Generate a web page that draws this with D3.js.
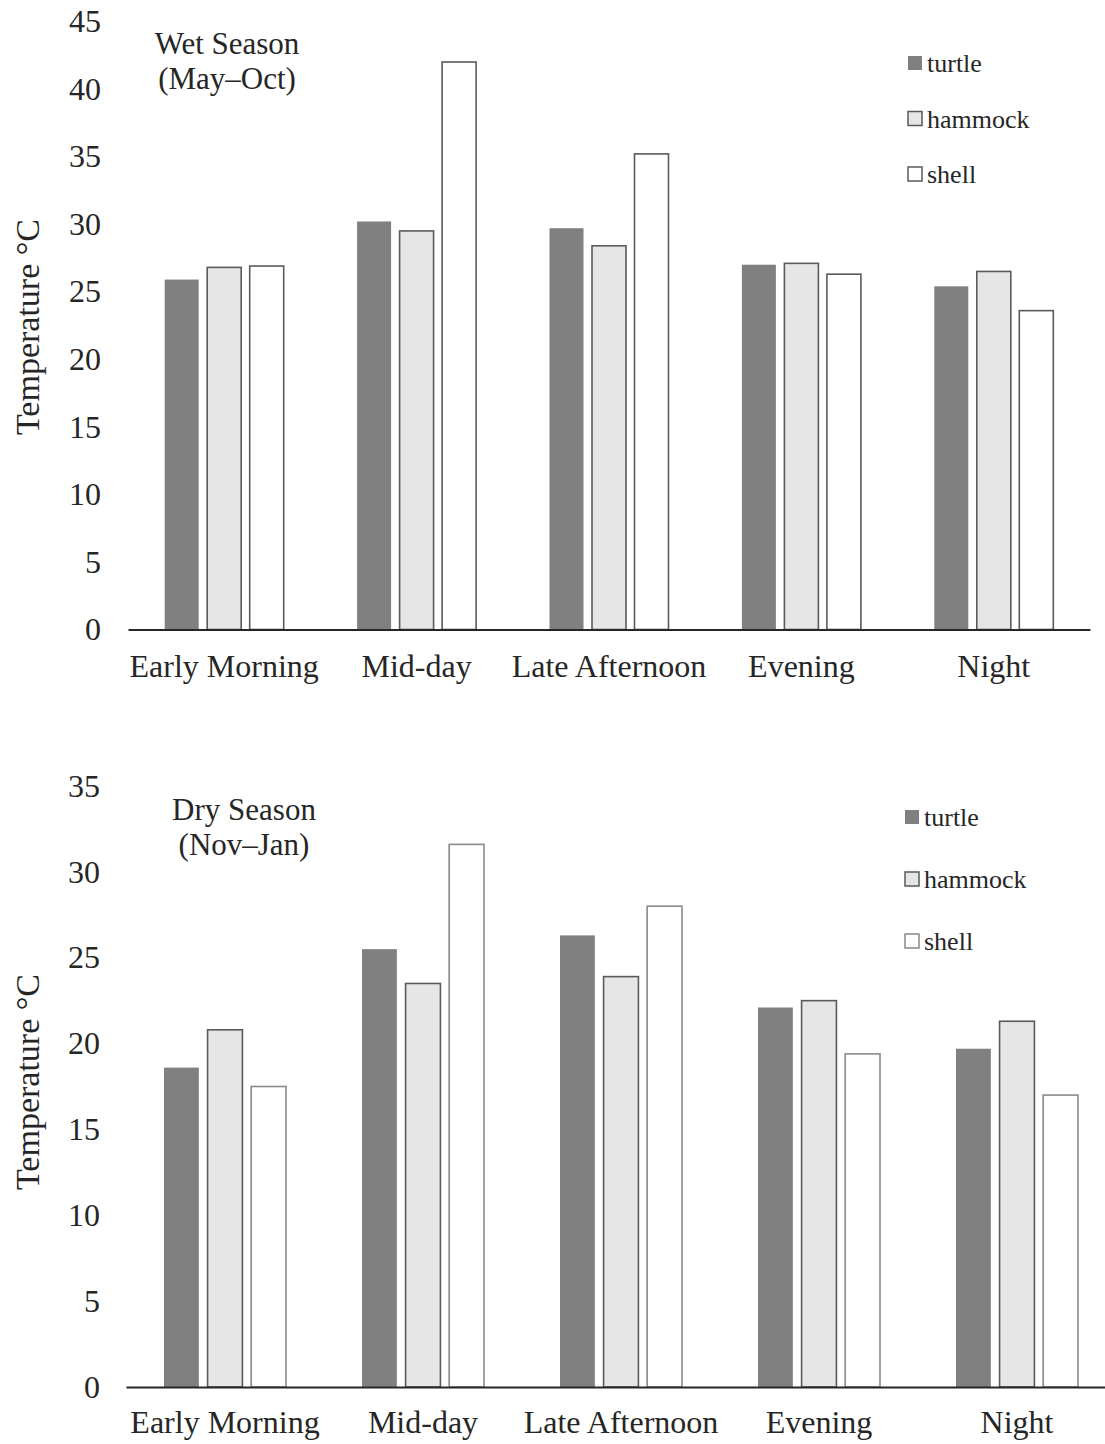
<!DOCTYPE html>
<html>
<head>
<meta charset="utf-8">
<script src="https://cdn.jsdelivr.net/npm/d3@7"></script>
<style>
  html, body { margin: 0; padding: 0; background: #fff; }
  svg { display: block; }
  text { font-family: "Liberation Serif", "Times New Roman", serif; fill: #262626; }
</style>
</head>
<body>
<svg id="chart" width="1105" height="1444"></svg>
<script>
// Time-of-day periods and the three measured surfaces
const periods = ["Early Morning", "Mid-day", "Late Afternoon", "Evening", "Night"];
const series = ["turtle", "hammock", "shell"];

// Wet season (May–Oct) mean temperatures, °C
const wetTurtle  = [25.9, 30.2, 29.7, 27.0, 25.4];
const wetHammock = [26.8, 29.5, 28.4, 27.1, 26.5];
const wetShell   = [26.9, 42.0, 35.2, 26.3, 23.6];

// Dry season (Nov–Jan) mean temperatures, °C
const dryTurtle  = [18.6, 25.5, 26.3, 22.1, 19.7];
const dryHammock = [20.8, 23.5, 23.9, 22.5, 21.3];
const dryShell   = [17.5, 31.6, 28.0, 19.4, 17.0];

// Axis ticks
const wetTicks = [0, 5, 10, 15, 20, 25, 30, 35, 40, 45];
const dryTicks = [0, 5, 10, 15, 20, 25, 30, 35];

const svg = d3.select("#chart");

function drawPanel(opt) {
  const g = svg.append("g");
  const rows = periods.map((p, i) => ({
    period: p,
    values: series.map((s, j) => ({ key: s, value: opt.data[j][i] }))
  }));

  const x0 = d3.scaleBand().domain(periods).range([opt.x0, opt.x1]).paddingInner(0).paddingOuter(0);
  const x1 = d3.scaleBand().domain(series).range([0, opt.groupW]).paddingInner(opt.barPad).paddingOuter(0);
  const y = d3.scaleLinear().domain([0, opt.yMax]).range([opt.yZero, opt.yTop]);

  const groupOffset = (x0.bandwidth() - opt.groupW) / 2;

  // bars
  g.selectAll("g.grp").data(rows).join("g")
    .attr("class", "grp")
    .attr("transform", d => `translate(${x0(d.period) + groupOffset},0)`)
    .selectAll("rect").data(d => d.values).join("rect")
    .attr("x", d => x1(d.key))
    .attr("width", x1.bandwidth())
    .attr("y", d => y(d.value))
    .attr("height", d => y(0) - y(d.value))
    .attr("fill", d => opt.fills[d.key])
    .attr("stroke", d => opt.strokes[d.key])
    .attr("stroke-width", d => opt.strokes[d.key] === "none" ? 0 : 1.6);

  // y tick labels (no axis line, no tick marks)
  const yAxis = d3.axisLeft(y).tickValues(opt.ticks).tickSize(0).tickPadding(0);
  const ya = g.append("g").attr("transform", `translate(${opt.yLabelX},0)`).call(yAxis);
  ya.select(".domain").remove();
  ya.selectAll("text")
    .style("font-family", "'Liberation Serif', 'Times New Roman', serif")
    .style("font-size", "32px")
    .attr("fill", "#262626");

  // x axis baseline and category labels
  const xAxis = d3.axisBottom(x0).tickSize(0).tickPadding(0);
  const xa = g.append("g").attr("transform", `translate(0,${opt.yZero})`).call(xAxis);
  xa.select(".domain").attr("stroke", "#262626").attr("stroke-width", 2.2);
  xa.selectAll("text")
    .attr("dy", null)
    .attr("y", opt.catBaseline - opt.yZero)
    .style("font-family", "'Liberation Serif', 'Times New Roman', serif")
    .style("font-size", "32px")
    .attr("fill", "#262626");

  // y axis title
  g.append("text")
    .attr("transform", `translate(${opt.yTitleX},${opt.yTitleY}) rotate(-90)`)
    .attr("text-anchor", "middle")
    .attr("dominant-baseline", "central")
    .style("font-size", "34px")
    .text("Temperature °C");

  // season title
  const t = g.append("text")
    .attr("text-anchor", "middle")
    .style("font-size", "31px");
  t.append("tspan").attr("x", opt.titleX).attr("y", opt.titleY1).text(opt.title[0]);
  t.append("tspan").attr("x", opt.titleX).attr("y", opt.titleY2).text(opt.title[1]);

  // legend
  const lg = g.append("g");
  series.forEach((s, i) => {
    const by = opt.legY + i * opt.legStep;
    lg.append("rect")
      .attr("x", opt.legX).attr("y", by - 16)
      .attr("width", 14).attr("height", 14)
      .attr("fill", opt.fills[s])
      .attr("stroke", opt.strokes[s] === "none" ? "none" : opt.strokes[s])
      .attr("stroke-width", 1.5);
    lg.append("text")
      .attr("x", opt.legX + 19).attr("y", by)
      .style("font-size", "26px")
      .text(s);
  });
}

drawPanel({
  data: [wetTurtle, wetHammock, wetShell],
  ticks: wetTicks, yMax: 45,
  x0: 128, x1: 1090, groupW: 119, barPad: 0.2,
  yZero: 629.5, yTop: 21.5,
  yLabelX: 101, catBaseline: 677,
  yTitleX: 27, yTitleY: 327,
  title: ["Wet Season", "(May–Oct)"], titleX: 227, titleY1: 54, titleY2: 89,
  legX: 908, legY: 72, legStep: 55.5,
  fills:   { turtle: "#808080", hammock: "#e6e6e6", shell: "#ffffff" },
  strokes: { turtle: "none", hammock: "#5a5a5a", shell: "#5a5a5a" }
});

drawPanel({
  data: [dryTurtle, dryHammock, dryShell],
  ticks: dryTicks, yMax: 35,
  x0: 126, x1: 1116, groupW: 122, barPad: 0.2,
  yZero: 1387, yTop: 786,
  yLabelX: 100, catBaseline: 1433,
  yTitleX: 27, yTitleY: 1082,
  title: ["Dry Season", "(Nov–Jan)"], titleX: 244, titleY1: 820, titleY2: 855,
  legX: 905, legY: 826, legStep: 62,
  fills:   { turtle: "#808080", hammock: "#e6e6e6", shell: "#ffffff" },
  strokes: { turtle: "none", hammock: "#5a5a5a", shell: "#8a8a8a" }
});
</script>
</body>
</html>
